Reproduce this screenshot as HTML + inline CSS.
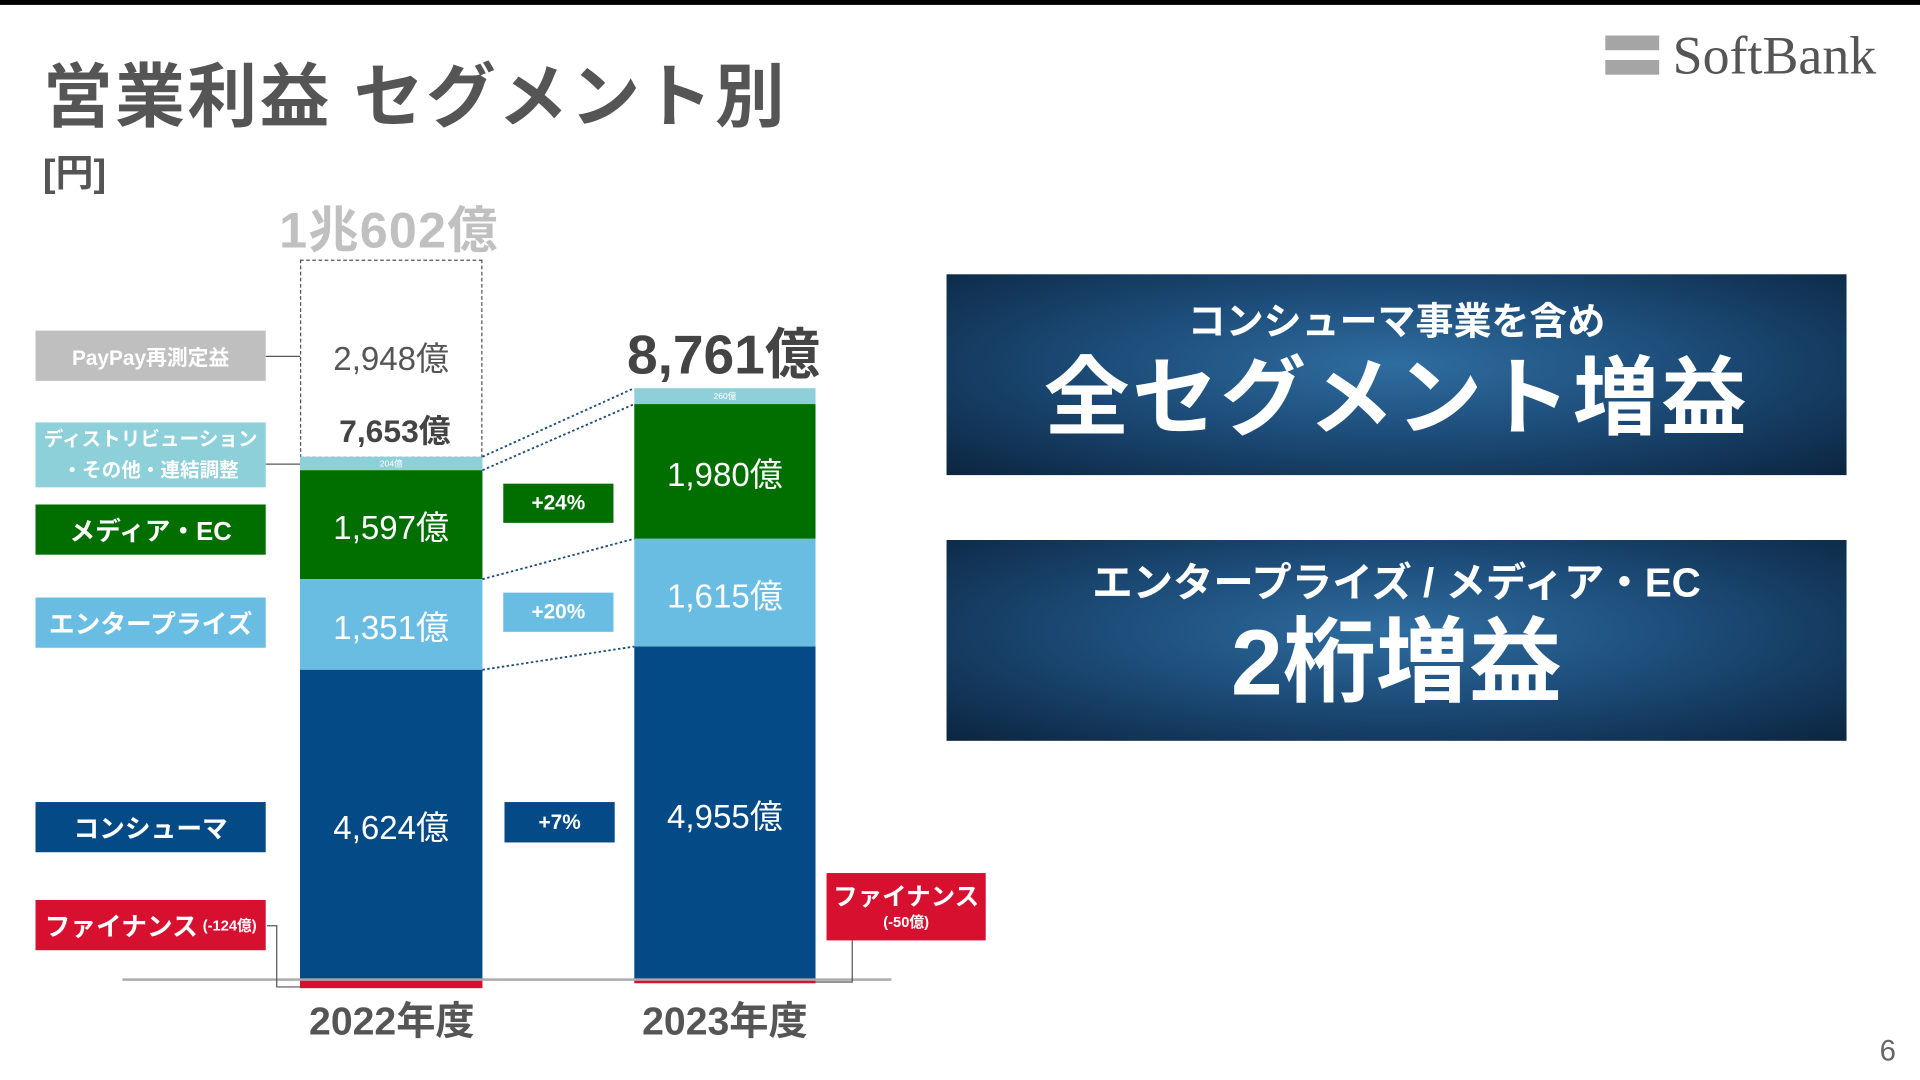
<!DOCTYPE html>
<html><head><meta charset="utf-8"><style>
*{margin:0;padding:0;box-sizing:border-box}
html,body{width:1920px;height:1080px;overflow:hidden;background:#fff}
#s{position:absolute;left:0;top:0;width:1568px;height:882px;transform:scale(1.22449);transform-origin:0 0;font-family:"Liberation Sans","Noto Sans CJK JP",sans-serif}
.a{position:absolute}
.c{position:absolute;display:flex;align-items:center;justify-content:center;text-align:center;color:#fff;font-weight:bold}
.big{background:radial-gradient(ellipse at 50% 45%,#2f6da0 0%,#1d4d7a 45%,#0b2540 100%)}
</style></head><body><div id="s">
<div class="a" style="left:0;top:0;width:1568px;height:4px;background:#000"></div>
<div class="a" style="left:35px;top:34px;font-size:57px;font-weight:bold;color:#555;letter-spacing:2px">営業利益 セグメント別</div>
<div class="a" style="left:35px;top:116px;font-size:31px;font-weight:bold;color:#555">[円]</div>
<div class="a" style="left:1311px;top:29px;width:44px;height:12px;background:#a5a5a5"></div>
<div class="a" style="left:1311px;top:49px;width:44px;height:12px;background:#a5a5a5"></div>
<div class="a" style="left:1366px;top:20px;font-family:'Liberation Serif',serif;font-size:44px;color:#555">SoftBank</div>
<div class="a" style="left:228px;top:154px;font-size:41px;font-weight:bold;color:#c0c0c0;letter-spacing:1px">1兆602億</div>
<div class="a" style="left:245px;top:212px;width:149px;height:162px;border:1.5px dashed #555"></div>
<div class="c" style="left:245px;top:270px;width:149px;height:40px;font-size:27px;font-weight:normal;color:#555">2,948億</div>
<div class="c" style="left:248px;top:330px;width:149px;height:40px;font-size:26px;color:#444">7,653億</div>
<div class="c" style="left:245px;top:373px;width:149px;height:11px;background:#8dd0d9;font-size:7px;font-weight:normal">204億</div>
<div class="c" style="left:245px;top:384px;width:149px;height:89px;background:#006f00;font-size:27px;font-weight:normal">1,597億</div>
<div class="c" style="left:245px;top:473px;width:149px;height:74px;background:#69bde3;font-size:27px;font-weight:normal">1,351億</div>
<div class="c" style="left:245px;top:547px;width:149px;height:253px;background:#044a86;font-size:27px;font-weight:normal">4,624億</div>
<div class="a" style="left:245px;top:800px;width:149px;height:7px;background:#d7102f"></div>
<div class="a" style="left:512px;top:264px;font-size:45px;font-weight:bold;color:#444;line-height:52px">8,761億</div>
<div class="c" style="left:518px;top:317px;width:148px;height:13px;background:#8dd0d9;font-size:7px;font-weight:normal">260億</div>
<div class="c" style="left:518px;top:330px;width:148px;height:110px;background:#006f00;font-size:27px;font-weight:normal">1,980億</div>
<div class="c" style="left:518px;top:440px;width:148px;height:88px;background:#69bde3;font-size:27px;font-weight:normal">1,615億</div>
<div class="c" style="left:518px;top:528px;width:148px;height:272px;background:#044a86;font-size:27px;font-weight:normal">4,955億</div>
<div class="a" style="left:518px;top:800px;width:148px;height:3px;background:#d7102f"></div>
<div class="a" style="left:100px;top:799px;width:628px;height:2px;background:#aaa"></div>
<svg class="a" style="left:0;top:0" width="1568" height="882">
<g stroke="#1d4d7a" stroke-width="1.5" stroke-dasharray="2,2" fill="none">
<line x1="394" y1="373" x2="518" y2="317"/><line x1="394" y1="384" x2="518" y2="330"/>
<line x1="394" y1="473" x2="518" y2="440"/><line x1="394" y1="547" x2="518" y2="528"/></g>
<g stroke="#555" stroke-width="1" fill="none">
<line x1="217" y1="291" x2="245" y2="291"/><line x1="217" y1="379" x2="245" y2="379"/>
<polyline points="218,756 226,756 226,806 245,806"/>
<polyline points="696,768 696,802 666,802"/></g>
</svg>
<div class="c" style="left:411px;top:395px;width:90px;height:32px;background:#006f00;font-size:17px">+24%</div>
<div class="c" style="left:411px;top:484px;width:90px;height:32px;background:#69bde3;font-size:17px">+20%</div>
<div class="c" style="left:412px;top:655px;width:90px;height:33px;background:#044a86;font-size:17px">+7%</div>
<div class="c" style="left:29px;top:270px;width:188px;height:41px;background:#bfbfbf;font-size:17px">PayPay再測定益</div>
<div class="c" style="left:29px;top:345px;width:188px;height:53px;background:#8dd0d9;font-size:16px;line-height:25px">ディストリビューション<br>・その他・連結調整</div>
<div class="c" style="left:29px;top:412px;width:188px;height:41px;background:#006f00;font-size:21px">メディア・EC</div>
<div class="c" style="left:29px;top:488px;width:188px;height:41px;background:#69bde3;font-size:21px">エンタープライズ</div>
<div class="c" style="left:29px;top:655px;width:188px;height:41px;background:#044a86;font-size:21px">コンシューマ</div>
<div class="c" style="left:29px;top:735px;width:188px;height:41px;background:#d7102f;font-size:21px">ファイナンス<span style="font-size:12px;margin-left:4px">(-124億)</span></div>
<div class="c" style="left:675px;top:713px;width:130px;height:55px;background:#d7102f;font-size:20px;flex-direction:column;line-height:24px">ファイナンス<span style="font-size:12px;line-height:16px">(-50億)</span></div>
<div class="c" style="left:230px;top:810px;width:180px;height:44px;font-size:32px;color:#555">2022年度</div>
<div class="c" style="left:502px;top:810px;width:180px;height:44px;font-size:32px;color:#555">2023年度</div>
<div class="c big" style="left:773px;top:224px;width:735px;height:164px;flex-direction:column">
<div style="font-size:31px;line-height:40px;margin-top:-2px">コンシューマ事業を含め</div>
<div style="font-size:70px;line-height:84px;letter-spacing:2px">全セグメント増益</div></div>
<div class="c big" style="left:773px;top:441px;width:735px;height:164px;flex-direction:column">
<div style="font-size:33px;line-height:42px;margin-top:-4px">エンタープライズ / メディア・EC</div>
<div style="font-size:76px;line-height:90px">2桁増益</div></div>
<div class="a" style="left:1535px;top:845px;font-size:24px;color:#666">6</div>
</div></body></html>
